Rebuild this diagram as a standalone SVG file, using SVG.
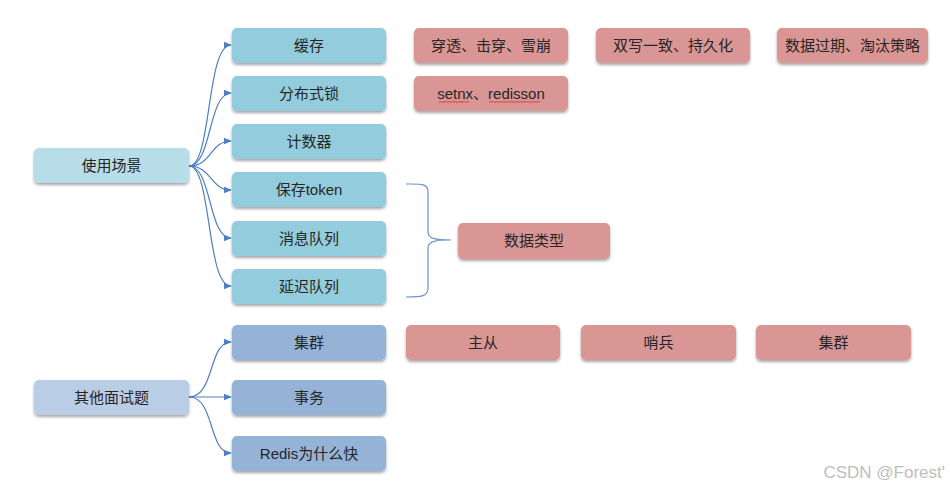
<svg xmlns="http://www.w3.org/2000/svg" width="950" height="490" viewBox="0 0 950 490">
<defs>
<filter id="sh" x="-10%" y="-20%" width="120%" height="160%">
<feDropShadow dx="0" dy="2" stdDeviation="1.5" flood-color="#000" flood-opacity="0.35"/>
</filter>
<marker id="ah" markerWidth="8" markerHeight="8" refX="7" refY="4" orient="auto" markerUnits="userSpaceOnUse">
<path d="M0,0.8 L8,4 L0,7.2 Z" fill="#4F7FC0"/>
</marker>
<style>
rect{filter:url(#sh)}
.t{font-family:"Liberation Sans","Noto Sans CJK SC",sans-serif;font-size:15px;fill:#262626;text-anchor:middle}
.c1{fill:#B7DDE8}
.c2{fill:#93CDDD}
.c3{fill:#B9CDE5}
.c4{fill:#95B3D7}
.p{fill:#D99694}
.cn{fill:none;stroke:#4F7FC0;stroke-width:1.2;marker-end:url(#ah)}
</style>
</defs>
<rect width="950" height="490" fill="#fff" style="filter:none"/>
<g id="connectors">
<path class="cn" d="M189,166 C212,166 206,45 231,45"/>
<path class="cn" d="M189,166 C212,166 208,93 231,93"/>
<path class="cn" d="M189,166 C212,166 210,141 231,141"/>
<path class="cn" d="M189,166 C212,166 210,190 231,190"/>
<path class="cn" d="M189,166 C212,166 208,238 231,238"/>
<path class="cn" d="M189,166 C212,166 206,286 231,286"/>
<path class="cn" d="M189,397 C215,397 208,342 231,342"/>
<path class="cn" d="M189,397 L231,397"/>
<path class="cn" d="M189,397 C215,397 208,453 231,453"/>
<path d="M406,184 C420,184 428,183 428,192 L428,232 C428,239 436,240 451,240 C436,240 428,241 428,248 L428,288 C428,297 420,297 406,297" fill="none" stroke="#6A93C8" stroke-width="1.2"/>
</g>
<g id="n-use"><rect class="c1" x="34" y="148" width="155" height="35" rx="5"/><text class="t" x="111.5" y="170.5">使用场景</text></g>
<g id="n-other"><rect class="c3" x="34" y="380" width="155" height="35" rx="5"/><text class="t" x="111.5" y="402.5">其他面试题</text></g>
<g id="n-cache"><rect class="c2" x="232" y="28" width="154" height="35" rx="5"/><text class="t" x="309" y="50.5">缓存</text></g>
<g id="n-lock"><rect class="c2" x="232" y="76" width="154" height="35" rx="5"/><text class="t" x="309" y="98.5">分布式锁</text></g>
<g id="n-counter"><rect class="c2" x="232" y="124" width="154" height="35" rx="5"/><text class="t" x="309" y="146.5">计数器</text></g>
<g id="n-token"><rect class="c2" x="232" y="172" width="154" height="35" rx="5"/><text class="t" x="309" y="194.5">保存token</text></g>
<g id="n-mq"><rect class="c2" x="232" y="221" width="154" height="35" rx="5"/><text class="t" x="309" y="243.5">消息队列</text></g>
<g id="n-delay"><rect class="c2" x="232" y="269" width="154" height="35" rx="5"/><text class="t" x="309" y="291.5">延迟队列</text></g>
<g id="n-cluster"><rect class="c4" x="232" y="325" width="154" height="35" rx="5"/><text class="t" x="309" y="347.5">集群</text></g>
<g id="n-tx"><rect class="c4" x="232" y="380" width="154" height="35" rx="5"/><text class="t" x="309" y="402.5">事务</text></g>
<g id="n-fast"><rect class="c4" x="232" y="436" width="154" height="35" rx="5"/><text class="t" x="309" y="458.5">Redis为什么快</text></g>
<g id="p-penetrate"><rect class="p" x="414" y="28" width="154" height="35" rx="5"/><text class="t" x="491" y="50.5">穿透、击穿、雪崩</text></g>
<g id="p-double"><rect class="p" x="596" y="28" width="154" height="35" rx="5"/><text class="t" x="673" y="50.5">双写一致、持久化</text></g>
<g id="p-expire"><rect class="p" x="777" y="28" width="151" height="35" rx="5"/><text class="t" x="852.5" y="50.5">数据过期、淘汰策略</text></g>
<g id="p-setnx"><rect class="p" x="414" y="76" width="154" height="35" rx="5"/><text class="t" x="491" y="98.5">setnx、redisson</text>
<path d="M439,102.5 l1.5,-1.2 l1.5,1.2 l1.5,-1.2 l1.5,1.2 l1.5,-1.2 l1.5,1.2 l1.5,-1.2 l1.5,1.2 l1.5,-1.2 l1.5,1.2 l1.5,-1.2 l1.5,1.2 l1.5,-1.2 l1.5,1.2 l1.5,-1.2 l1.5,1.2 l1.5,-1.2 l1.5,1.2 l1.5,-1.2 l1.5,1.2 M489,102.5 l1.5,-1.2 l1.5,1.2 l1.5,-1.2 l1.5,1.2 l1.5,-1.2 l1.5,1.2 l1.5,-1.2 l1.5,1.2 l1.5,-1.2 l1.5,1.2 l1.5,-1.2 l1.5,1.2 l1.5,-1.2 l1.5,1.2 l1.5,-1.2 l1.5,1.2 l1.5,-1.2 l1.5,1.2 l1.5,-1.2 l1.5,1.2 l1.5,-1.2 l1.5,1.2 l1.5,-1.2 l1.5,1.2 l1.5,-1.2 l1.5,1.2 l1.5,-1.2 l1.5,1.2 l1.5,-1.2 l1.5,1.2 l1.5,-1.2 l1.5,1.2 l1.5,-1.2 l1.5,1.2" fill="none" stroke="#E02020" stroke-width="0.8"/></g>
<g id="p-types"><rect class="p" x="458" y="223" width="152" height="36" rx="5"/><text class="t" x="534" y="246">数据类型</text></g>
<g id="p-master"><rect class="p" x="406" y="325" width="154" height="35" rx="5"/><text class="t" x="483" y="347.5">主从</text></g>
<g id="p-sentinel"><rect class="p" x="581" y="325" width="155" height="35" rx="5"/><text class="t" x="658.5" y="347.5">哨兵</text></g>
<g id="p-cluster"><rect class="p" x="756" y="325" width="155" height="35" rx="5"/><text class="t" x="833.5" y="347.5">集群</text></g>
<text x="945" y="478" style="font-family:'Liberation Sans',sans-serif;font-size:17px;fill:#BDBDBD;text-anchor:end">CSDN @Forest'</text>
</svg>
